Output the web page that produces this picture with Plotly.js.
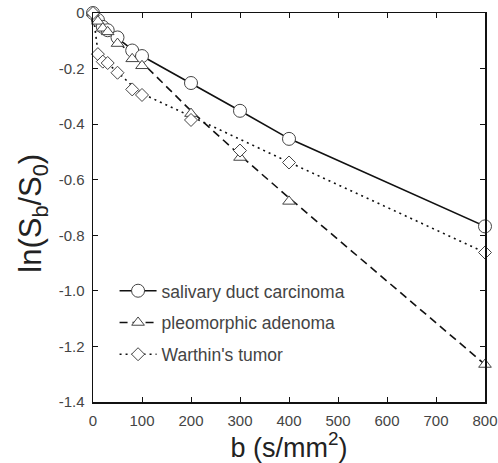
<!DOCTYPE html>
<html>
<head>
<meta charset="utf-8">
<script src="https://cdn.plot.ly/plotly-3.0.1.min.js"></script>
<style>html,body{margin:0;padding:0;background:#fff;}#chart{width:498px;height:463px;}</style>
</head>
<body>
<div id="chart"></div>
<script>
// b-values (s/mm^2)
const bValues = [0, 10, 20, 30, 50, 80, 100, 200, 300, 400, 800];
// measured points
const salivaryDuct = [0, -0.025, -0.05, -0.062, -0.088, -0.135, -0.155, -0.252, -0.352, -0.453, -0.768];
const pleomorphic = [0, -0.03, -0.055, -0.068, -0.11, -0.165, -0.19, -0.362, -0.52, -0.678, -1.265];
const warthin = [0, -0.148, -0.175, -0.18, -0.215, -0.275, -0.295, -0.385, -0.495, -0.538, -0.862];
// fitted curves
const salivaryFit = [0, -0.022, -0.044, -0.062, -0.09, -0.132, -0.155, -0.252, -0.352, -0.452, -0.768];
const pleomorphicFit = [0, -0.028, -0.05, -0.068, -0.102, -0.152, -0.178, -0.352, -0.512, -0.665, -1.265];
const warthinFit = [0, -0.14, -0.168, -0.182, -0.212, -0.262, -0.29, -0.372, -0.455, -0.537, -0.862];
const seriesNames = ["salivary duct carcinoma", "pleomorphic adenoma", "Warthin's tumor"];
const xTicks = [0, 100, 200, 300, 400, 500, 600, 700, 800];
const yTicks = [0, -0.2, -0.4, -0.6, -0.8, -1.0, -1.2, -1.4];
const yTickText = ["0", "-0.2", "-0.4", "-0.6", "-0.8", "-1.0", "-1.2", "-1.4"];

const FONT = 'Liberation Sans, Arial, sans-serif';
const styles = [
  {dash: 'solid', symbol: 'circle', size: 13},
  {dash: '8px,5px', symbol: 'triangle-up', size: 11},
  {dash: '2px,4px', symbol: 'diamond', size: 10}
];
const points = [salivaryDuct, pleomorphic, warthin];
const fits = [salivaryFit, pleomorphicFit, warthinFit];

const data = [];
const lineStyle = s => ({color: '#111', width: 1.6, dash: s.dash});
const markerStyle = s => ({symbol: s.symbol, size: s.size, color: '#fff', line: {color: '#444', width: 1}});
styles.forEach((s, i) => {
  data.push({x: bValues, y: fits[i], type: 'scatter', mode: 'lines', showlegend: false,
    cliponaxis: false, line: lineStyle(s), hoverinfo: 'skip'});
});
styles.forEach((s, i) => {
  data.push({x: bValues, y: points[i], type: 'scatter', mode: 'markers', showlegend: false,
    cliponaxis: false, marker: markerStyle(s)});
});
styles.forEach((s, i) => {
  data.push({x: [null], y: [null], type: 'scatter', mode: 'lines+markers', name: seriesNames[i],
    legendgroup: 'g' + i, line: lineStyle(s), marker: markerStyle(s)});
});

const axisCommon = {
  showline: true, linecolor: '#111', linewidth: 1.5, mirror: 'ticks',
  ticks: 'inside', ticklen: 5, tickcolor: '#111', tickwidth: 1,
  showgrid: false, zeroline: false,
  tickfont: {family: FONT, size: 15, color: '#444'}
};

const layout = {
  width: 498, height: 463,
  margin: {l: 93, r: 13, t: 13, b: 61},
  paper_bgcolor: '#fff', plot_bgcolor: '#fff',
  showlegend: true,
  legend: {
    x: 0.055, y: 0.332, xanchor: 'left', yanchor: 'top',
    traceorder: 'grouped', tracegroupgap: 6, itemwidth: 37,
    bgcolor: 'rgba(0,0,0,0)',
    font: {family: FONT, size: 17.5, color: '#444'}
  },
  xaxis: Object.assign({}, axisCommon, {
    range: [0, 800], tickvals: xTicks, ticktext: xTicks.map(String),
    ticklabelstandoff: 4,
    title: {text: 'b (s/mm<sup>2</sup>)', standoff: 3,
      font: {family: FONT, size: 27, color: '#222'}}
  }),
  yaxis: Object.assign({}, axisCommon, {
    range: [-1.4, 0], tickvals: yTicks, ticktext: yTickText,
    ticklabelstandoff: 4
  }),
  annotations: [{
    text: 'ln(S<sub>b</sub>/S<sub>0</sub>)', textangle: -90, showarrow: false,
    xref: 'paper', yref: 'paper', x: -0.152, y: 0.485, xanchor: 'center', yanchor: 'middle',
    font: {family: FONT, size: 31, color: '#222'}
  }]
};

Plotly.newPlot('chart', data, layout, {displayModeBar: false, staticPlot: true});
</script>
</body>
</html>
